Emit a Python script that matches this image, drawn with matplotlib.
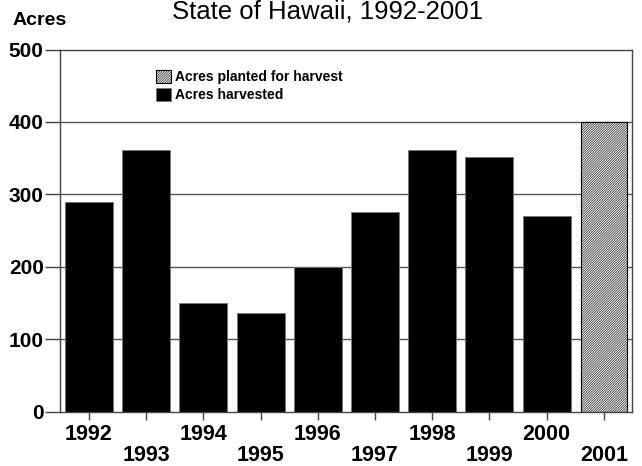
import matplotlib.pyplot as plt

plt.rcParams['font.family'] = ['Liberation Sans', 'DejaVu Sans']
plt.rcParams['hatch.color'] = '#a0a0a0'
plt.rcParams['hatch.linewidth'] = 0.4

years = ['1992', '1993', '1994', '1995', '1996', '1997', '1998', '1999', '2000', '2001']
harvested = [290, 361, 150, 136, 200, 276, 361, 351, 270]
planted_2001 = 400
y_ticks = [0, 100, 200, 300, 400, 500]

fig = plt.figure(figsize=(6.42, 4.66), dpi=100)
ax = fig.add_axes([60.4 / 642, 1 - 411.5 / 466, 572 / 642, 362 / 466])

# grid lines behind the bars
for v in y_ticks[1:-1]:
    ax.axhline(v, color='#555555', lw=1.0, zorder=0)

x_h = list(range(len(harvested)))
ax.bar(x_h, harvested, width=0.84, color='black', edgecolor='#777777', lw=0.6,
       zorder=2, label='Acres harvested')
ax.bar([len(years) - 1], [planted_2001], width=0.8, color='#efefef',
       edgecolor='black', lw=0.8, hatch='/' * 14, zorder=2,
       label='Acres planted for harvest')

ax.set_xlim(-0.5, len(years) - 0.5)
ax.set_ylim(0, 500)
ax.set_yticks(y_ticks)
ax.set_yticklabels([str(v) for v in y_ticks], fontsize=15, fontweight='bold')
ax.tick_params(axis='y', length=11, width=1, pad=1, color='#444444')

ax.set_xticks(range(len(years)))
ax.set_xticklabels([y if i % 2 == 0 else '\n' + y for i, y in enumerate(years)],
                   fontsize=15.5, fontweight='bold', linespacing=1.0)
ax.tick_params(axis='x', length=6, width=1, pad=3, color='#444444')

for s in ax.spines.values():
    s.set_color('#444444')
    s.set_linewidth(1.0)

handles, labels = ax.get_legend_handles_labels()
ax.legend(handles[::-1], labels[::-1], loc='upper left',
          bbox_to_anchor=(156 / 642, 1 - 70 / 466), bbox_transform=fig.transFigure,
          frameon=False, prop={'weight': 'bold', 'size': 10},
          handlelength=1.05, handleheight=1.05, handletextpad=0.3,
          labelspacing=0.25, borderpad=0, borderaxespad=0)

fig.text(327 / 642, 1 - 19 / 466, 'State of Hawaii, 1992-2001', ha='center',
         va='baseline', fontsize=18.5)
fig.text(13 / 642, 1 - 25 / 466, 'Acres', ha='left', va='baseline',
         fontsize=14, fontweight='bold')

fig.savefig('out.png', dpi=100)
